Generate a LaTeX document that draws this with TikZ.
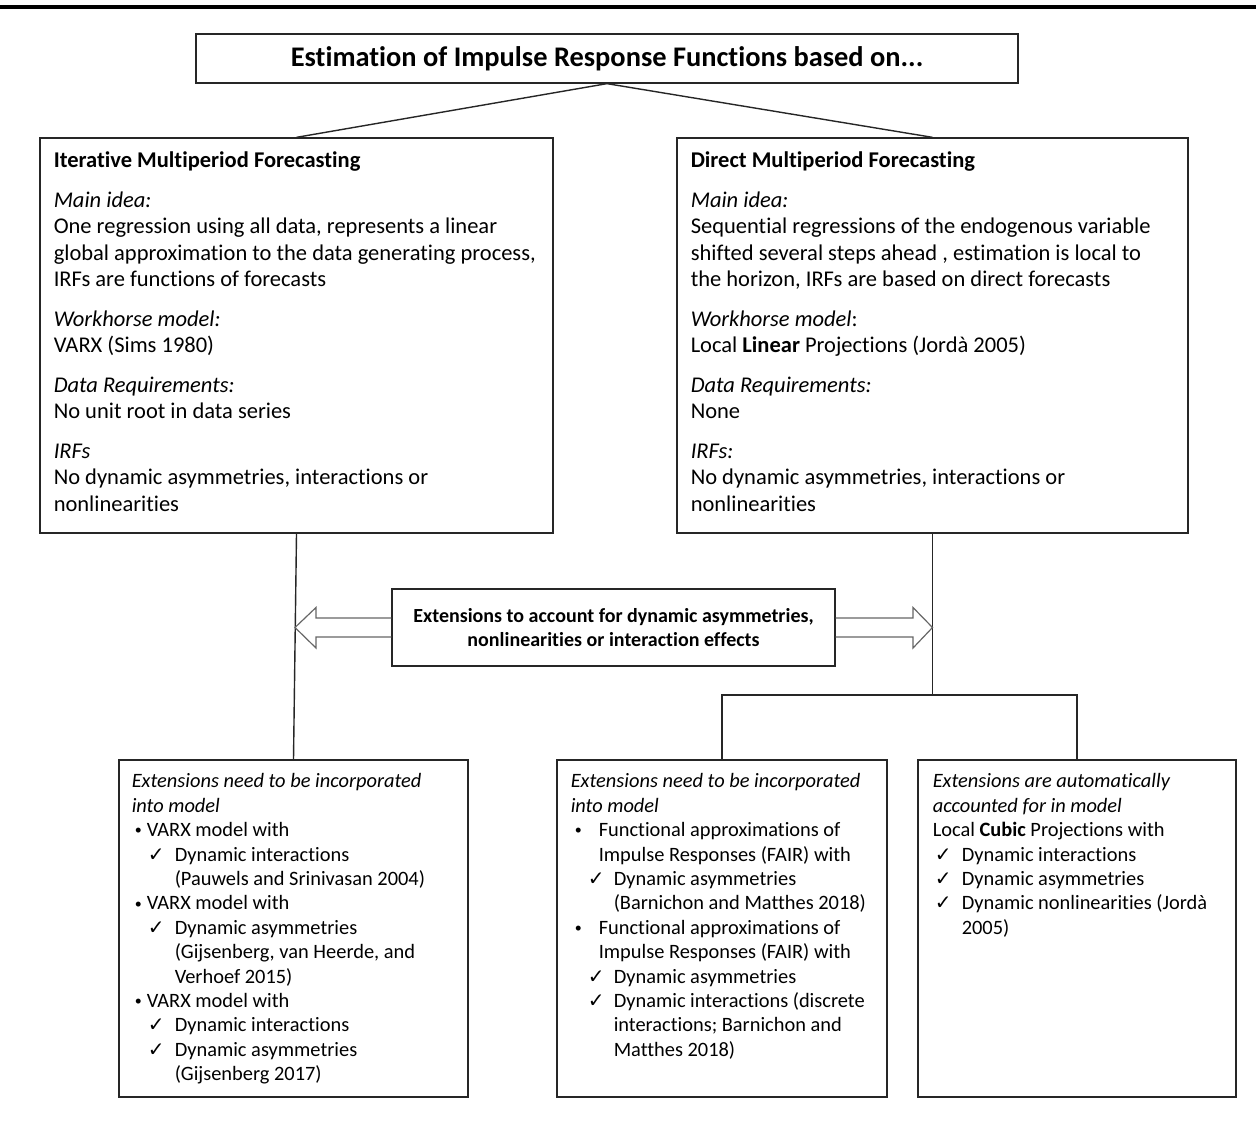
\documentclass[tikz,border=0pt]{standalone}
\usepackage{fontspec}
\setmainfont{Carlito}[Ligatures=NoCommon]
\newfontfamily\symfont{DejaVu Sans}
\usetikzlibrary{positioning, fit}

\newcommand{\chk}{{\symfont\fontsize{10}{10}\selectfont ✓}}
\newcommand{\bul}{\raisebox{0.9pt}{\fontsize{7}{7}\selectfont •}}
\newcommand{\mk}[3]{\hspace*{#1}\makebox[#2][l]{#3}}

\begin{document}
\begin{tikzpicture}[
  x=0.5pt, y=-0.5pt,
  every node/.style={font=\fontsize{11.25}{13.25}\selectfont},
  frame/.style={rectangle, draw=black!85, line width=0.65pt, inner sep=0pt},
  body/.style={anchor=north west, inner sep=0pt, align=left},
  small/.style={font=\fontsize{10.2}{12.2}\selectfont},
  link/.style={draw=black!85, line width=0.7pt},
  fat/.style={draw=black!60, line width=0.6pt, line join=miter},
]
  \useasboundingbox (0,0) rectangle (1256,1128);
  \draw[line width=2pt] (0,7) -- (1256,7);

  % Boxes
  \node[frame, fit={(196,34) (1018,83)}]    (title) {};
  \node[frame, fit={(40,138) (553,533)}]    (iter) {};
  \node[frame, fit={(677,138) (1188,533)}]  (dire) {};
  \node[frame, fit={(392,589) (835,666)}]   (ext) {};
  \node[frame, fit={(119,760) (468,1097)}]  (extL) {};
  \node[frame, fit={(557,760) (887,1097)}]  (extM) {};
  \node[frame, fit={(918,760) (1236,1097)}] (extR) {};

  % Texts
  \node[font=\bfseries\fontsize{14.2}{16}\selectfont] (titleT) at (title.center)
    {Estimation of Impulse Response Functions based on...};
  \node[align=center, font=\bfseries\fontsize{10}{12}\selectfont] (extT) at (ext.center)
    {Extensions to account for dynamic asymmetries,\\ nonlinearities or interaction effects};
  \node[body] (iterT) at ([xshift=7pt, yshift=-7pt]iter.north west)
    {\textbf{Iterative Multiperiod Forecasting}\\[6.5pt]
     \textit{Main idea:}\\
     One regression using all data, represents a linear\\
     global approximation to the data generating process,\\
     IRFs are functions of forecasts\\[6.5pt]
     \textit{Workhorse model:}\\
     VARX (Sims 1980)\\[6.5pt]
     \textit{Data Requirements:}\\
     No unit root in data series\\[6.5pt]
     \textit{IRFs}\\
     No dynamic asymmetries, interactions or\\
     nonlinearities};
  \node[body] (direT) at ([xshift=7pt, yshift=-7pt]dire.north west)
    {\textbf{Direct Multiperiod Forecasting}\\[6.5pt]
     \textit{Main idea:}\\
     Sequential regressions of the endogenous variable\\
     shifted several steps ahead , estimation is local to\\
     the horizon, IRFs are based on direct forecasts\\[6.5pt]
     \textit{Workhorse model}:\\
     Local \textbf{Linear} Projections (Jordà 2005)\\[6.5pt]
     \textit{Data Requirements:}\\
     None\\[6.5pt]
     \textit{IRFs:}\\
     No dynamic asymmetries, interactions or\\
     nonlinearities};
  \node[body, small] (extLT) at ([xshift=6.5pt, yshift=-7pt]extL.north west)
    {\textit{Extensions need to be incorporated}\\
     \textit{into model}\\
     \mk{1.5pt}{6pt}{\bul}VARX model with\\
     \mk{8pt}{13.5pt}{\chk}Dynamic interactions\\
     \hspace*{21.5pt}(Pauwels and Srinivasan 2004)\\
     \mk{1.5pt}{6pt}{\bul}VARX model with\\
     \mk{8pt}{13.5pt}{\chk}Dynamic asymmetries\\
     \hspace*{21.5pt}(Gijsenberg, van Heerde, and\\
     \hspace*{21.5pt}Verhoef 2015)\\
     \mk{1.5pt}{6pt}{\bul}VARX model with\\
     \mk{8pt}{13.5pt}{\chk}Dynamic interactions\\
     \mk{8pt}{13.5pt}{\chk}Dynamic asymmetries\\
     \hspace*{21.5pt}(Gijsenberg 2017)};
  \node[body, small] (extMT) at ([xshift=7pt, yshift=-7pt]extM.north west)
    {\textit{Extensions need to be incorporated}\\
     \textit{into model}\\
     \mk{2pt}{12pt}{\bul}Functional approximations of\\
     \hspace*{14pt}Impulse Responses (FAIR) with\\
     \mk{8.5pt}{13pt}{\chk}Dynamic asymmetries\\
     \hspace*{21.5pt}(Barnichon and Matthes 2018)\\
     \mk{2pt}{12pt}{\bul}Functional approximations of\\
     \hspace*{14pt}Impulse Responses (FAIR) with\\
     \mk{8.5pt}{13pt}{\chk}Dynamic asymmetries\\
     \mk{8.5pt}{13pt}{\chk}Dynamic interactions (discrete\\
     \hspace*{21.5pt}interactions; Barnichon and\\
     \hspace*{21.5pt}Matthes 2018)};
  \node[body, small] (extRT) at ([xshift=7.5pt, yshift=-7pt]extR.north west)
    {\textit{Extensions are automatically}\\
     \textit{accounted for in model}\\
     Local \textbf{Cubic} Projections with\\
     \mk{1pt}{13.5pt}{\chk}Dynamic interactions\\
     \mk{1pt}{13.5pt}{\chk}Dynamic asymmetries\\
     \mk{1pt}{13.5pt}{\chk}Dynamic nonlinearities (Jordà\\
     \hspace*{14.5pt}2005)};

  % Lines
  \coordinate (fork) at (dire.south |- 0,695);
  \draw[link] (title.south) -- (iter.north);
  \draw[link] (title.south) -- (dire.north);
  \draw[link] (iter.south) -- (extL.north);
  \draw[link] (dire.south) -- (fork);
  \draw[link] (extM.north) |- (fork) -| (extR.north);

  % Double arrows
  \draw[fat] ([yshift=4.75pt]ext.west) -- (316,618) -- (316,607.5) -- (295,627.5)
             -- (316,648) -- (316,637) -- ([yshift=-4.75pt]ext.west);
  \draw[fat] ([yshift=4.75pt]ext.east) -- (913,618) -- (913,607.5) -- (932.5,627.5)
             -- (913,648) -- (913,637) -- ([yshift=-4.75pt]ext.east);
\end{tikzpicture}
\end{document}
